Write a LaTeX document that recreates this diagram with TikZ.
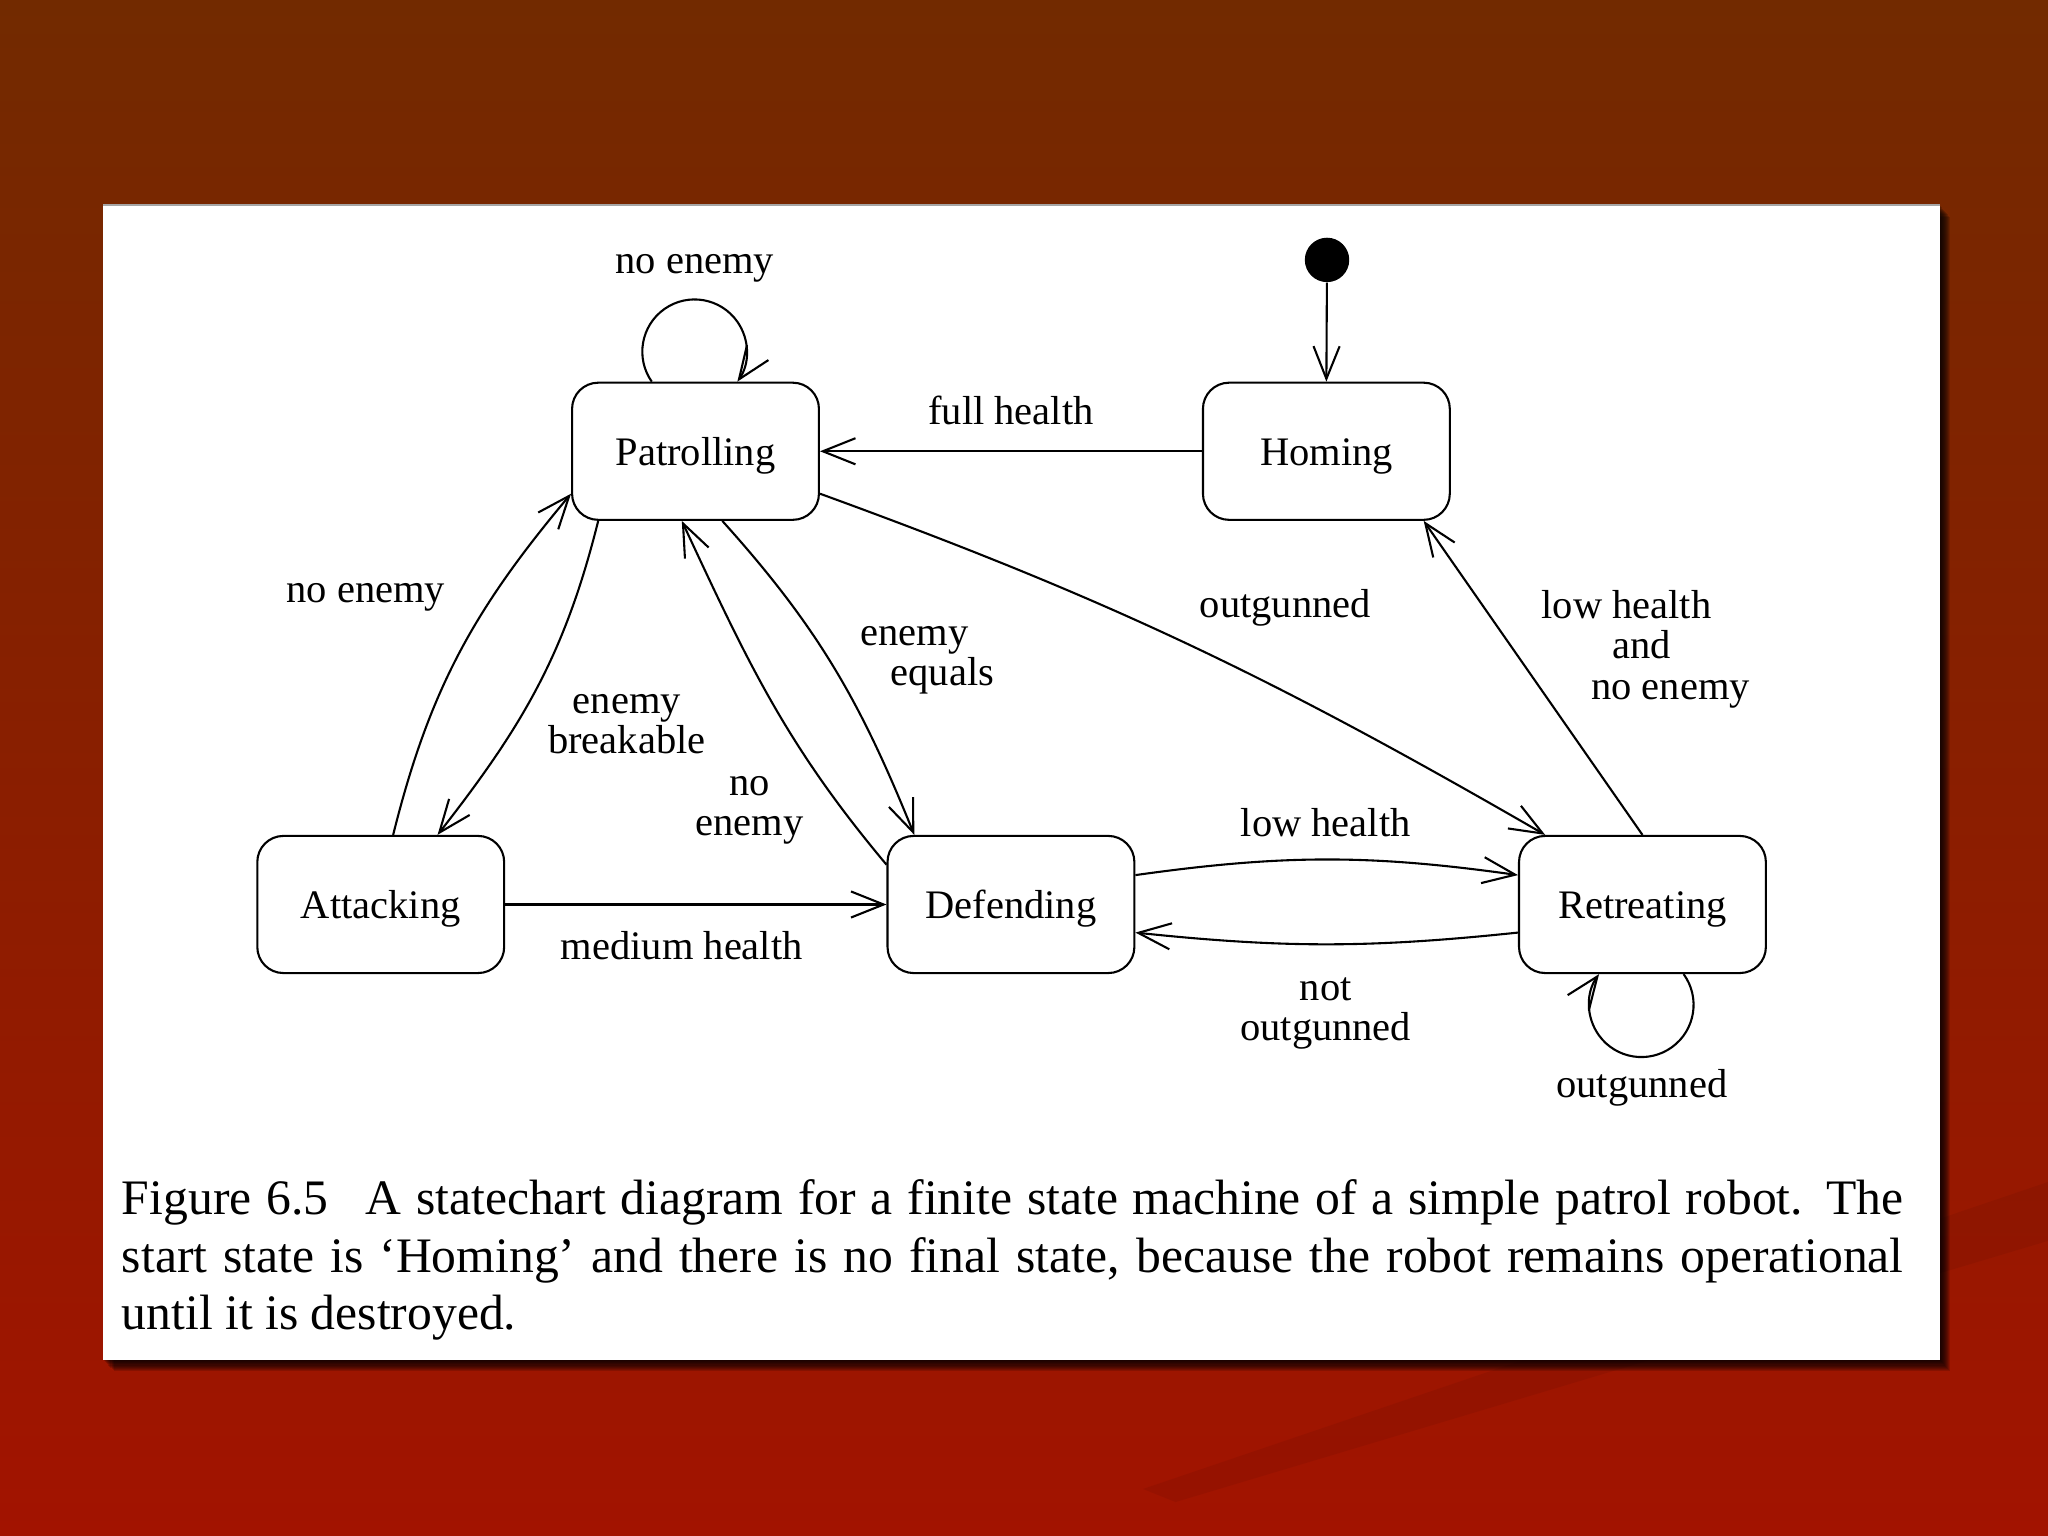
\documentclass[tikz,border=0pt]{standalone}
\usepackage{fontspec}
\setmainfont{Liberation Serif}
\usetikzlibrary{arrows.meta,calc}
\definecolor{bgtop}{RGB}{114,42,0}
\definecolor{bgbot}{RGB}{162,19,0}
\newcommand\lblfont{\fontsize{15.5}{15.5}\selectfont}
\begin{document}
\begin{tikzpicture}[x=0.5pt,y=0.5pt,
  state/.style={draw, line width=0.8pt, rounded corners=10pt, minimum width=94.5pt,
                minimum height=52.5pt, inner sep=0pt, font=\lblfont,
                text height=13pt, text depth=2pt},
  lbl/.style={inner sep=0pt, font=\lblfont, align=center},
  arr/.style={line width=0.8pt, -{Straight Barb[length=12.5pt,width=10pt,line width=0.8pt]}}]
\useasboundingbox (0,0) rectangle (1568,-1176);
% background
\shade[top color=bgtop, bottom color=bgbot] (0,0) rectangle (1568,-1176);
\fill[black, opacity=0.06] (1568,-905) -- (1568,-950) -- (900,-1150) -- (875,-1140) -- cycle;
% shadow
\foreach \k in {1,...,10}{
  \fill[black, opacity=0.15] (79+0.8*\k,-157-0.9*\k) rectangle (1485+0.8*\k,-1041-0.9*\k);
}
% panel
\fill[white] (79,-157) rectangle (1485,-1041);
\draw[black!35, line width=0.6pt] (79,-157) -- (1485,-157);

% states
\node[state] (P) at (532.5,-345.5) {Patrolling};
\node[state] (H) at (1015.5,-345.5) {Homing};
\node[state] (A) at (291.5,-692.5) {Attacking};
\node[state] (D) at (774,-692.5) {Defending};
\node[state] (R) at (1257.5,-692.5) {Retreating};
\node[circle, fill=black, inner sep=0pt, minimum size=17pt] (init) at (1016,-199) {};

% connectors
\draw[arr] (init) -- (H.north);
\draw[arr] (H.west) -- (P.east);
\draw[arr] ($(P.north)+(-33.5,0)$) arc[start angle=215, end angle=-35, radius=20pt];
\draw[arr] ($(A.north)+(9.5,0)$) to[out=76,in=230] ($(P.west)+(0,-32.5)$);
\draw[arr] ($(P.south)+(-74.5,0)$) to[out=256,in=52] ($(A.north)+(43.5,0)$);
\draw[arr] ($(D.west)+(0,30.5)$) to[out=130,in=295] ($(P.south)+(-10.5,0)$);
\draw[arr] ($(P.south)+(20.5,0)$) to[out=312,in=112] ($(D.north)+(-74,0)$);
\draw[arr] ($(P.east)+(0,-32.5)$) to[out=-20,in=150] ($(R.north)+(-74.5,0)$);
\draw[arr] (R.north) -- ($(H.south)+(74.5,0)$);
\draw[arr] (A.east) -- (D.west);
\draw[arr] ($(D.east)+(0,22.5)$) to[out=8,in=172] ($(R.west)+(0,22.5)$);
\draw[arr] ($(R.west)+(0,-21.5)$) to[out=186,in=-6] ($(D.east)+(0,-21.5)$);
\draw[arr] ($(R.south)+(31.5,0)$) arc[start angle=36, end angle=-216, radius=20pt];

% labels
\node[lbl, yshift=-2.8pt] (l1) at (532,-200) {no enemy};
\node[lbl] (l2) at (774,-314) {full health};
\node[lbl, yshift=-2.8pt] (l3) at (280,-452) {no enemy};
\node[lbl, yshift=-1.2pt] (l4) at (480,-552) {enemy\\breakable};
\node[lbl, yshift=-2.7pt] (l5) at (574,-615) {no\\enemy};
\node[lbl, align=left, yshift=-3pt] (l6) at (710,-499.5) {enemy\\\hspace*{11.5pt}equals};
\node[lbl, yshift=-1.5pt] (l7) at (984,-462) {outgunned};
\node[lbl, align=left, yshift=-1.7pt] (l8) at (1260,-493.5) {low health\\\hspace*{27pt}and\\\hspace*{19pt}no enemy};
\node[lbl] (l9) at (1015,-630) {low health};
\node[lbl] (l10) at (522,-724) {medium health};
\node[lbl, yshift=-2.2pt] (l11) at (1015,-771.5) {not\\outgunned};
\node[lbl, yshift=-1.5pt] (l12) at (1257,-830) {outgunned};

% caption
\node[anchor=base west, inner sep=0pt] (cap) at (93,-930) {\parbox[t]{682pt}{\fontsize{19}{22}\selectfont
Figure 6.5\hskip 0.75em A statechart diagram for a finite state machine of a simple patrol robot. The\linebreak
start state is ‘Homing’ and there is no final state, because the robot remains operational\linebreak
until it is destroyed.}};
\end{tikzpicture}
\end{document}
